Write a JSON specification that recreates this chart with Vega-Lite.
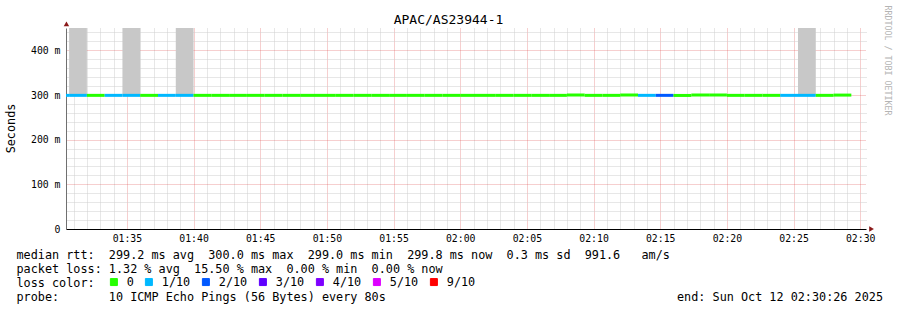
{
  "$schema": "https://vega.github.io/schema/vega-lite/v6.json",
  "width": 800,
  "height": 201,
  "autosize": {"type": "none"},
  "padding": {"left": 66, "top": 28, "right": 31, "bottom": 81},
  "background": "#ffffff",
  "config": {
    "font": "DejaVu Sans Mono",
    "view": {"stroke": null}
  },
  "datasets": {
    "smoke": [
      {"s": "2025-10-12T01:30:40Z", "e": "2025-10-12T01:32:00Z", "lo": 0.3, "hi": 0.45},
      {"s": "2025-10-12T01:34:40Z", "e": "2025-10-12T01:36:00Z", "lo": 0.3, "hi": 0.45},
      {"s": "2025-10-12T01:38:40Z", "e": "2025-10-12T01:40:00Z", "lo": 0.3, "hi": 0.45},
      {"s": "2025-10-12T02:25:20Z", "e": "2025-10-12T02:26:40Z", "lo": 0.3, "hi": 0.45}
    ],
    "steps": [
      {"s": "2025-10-12T01:29:20Z", "e": "2025-10-12T01:30:40Z", "rtt": 0.2992, "loss": "1/10"},
      {"s": "2025-10-12T01:30:40Z", "e": "2025-10-12T01:32:00Z", "rtt": 0.2992, "loss": "1/10"},
      {"s": "2025-10-12T01:32:00Z", "e": "2025-10-12T01:33:20Z", "rtt": 0.2992, "loss": "0"},
      {"s": "2025-10-12T01:33:20Z", "e": "2025-10-12T01:34:40Z", "rtt": 0.2992, "loss": "1/10"},
      {"s": "2025-10-12T01:34:40Z", "e": "2025-10-12T01:36:00Z", "rtt": 0.2992, "loss": "1/10"},
      {"s": "2025-10-12T01:36:00Z", "e": "2025-10-12T01:37:20Z", "rtt": 0.2992, "loss": "0"},
      {"s": "2025-10-12T01:37:20Z", "e": "2025-10-12T01:38:40Z", "rtt": 0.2992, "loss": "1/10"},
      {"s": "2025-10-12T01:38:40Z", "e": "2025-10-12T01:40:00Z", "rtt": 0.2992, "loss": "1/10"},
      {"s": "2025-10-12T01:40:00Z", "e": "2025-10-12T01:41:20Z", "rtt": 0.2992, "loss": "0"},
      {"s": "2025-10-12T01:41:20Z", "e": "2025-10-12T01:42:40Z", "rtt": 0.2992, "loss": "0"},
      {"s": "2025-10-12T01:42:40Z", "e": "2025-10-12T01:44:00Z", "rtt": 0.2992, "loss": "0"},
      {"s": "2025-10-12T01:44:00Z", "e": "2025-10-12T01:45:20Z", "rtt": 0.2992, "loss": "0"},
      {"s": "2025-10-12T01:45:20Z", "e": "2025-10-12T01:46:40Z", "rtt": 0.2992, "loss": "0"},
      {"s": "2025-10-12T01:46:40Z", "e": "2025-10-12T01:48:00Z", "rtt": 0.2992, "loss": "0"},
      {"s": "2025-10-12T01:48:00Z", "e": "2025-10-12T01:49:20Z", "rtt": 0.2992, "loss": "0"},
      {"s": "2025-10-12T01:49:20Z", "e": "2025-10-12T01:50:40Z", "rtt": 0.2992, "loss": "0"},
      {"s": "2025-10-12T01:50:40Z", "e": "2025-10-12T01:52:00Z", "rtt": 0.2992, "loss": "0"},
      {"s": "2025-10-12T01:52:00Z", "e": "2025-10-12T01:53:20Z", "rtt": 0.2992, "loss": "0"},
      {"s": "2025-10-12T01:53:20Z", "e": "2025-10-12T01:54:40Z", "rtt": 0.2992, "loss": "0"},
      {"s": "2025-10-12T01:54:40Z", "e": "2025-10-12T01:56:00Z", "rtt": 0.2992, "loss": "0"},
      {"s": "2025-10-12T01:56:00Z", "e": "2025-10-12T01:57:20Z", "rtt": 0.2992, "loss": "0"},
      {"s": "2025-10-12T01:57:20Z", "e": "2025-10-12T01:58:40Z", "rtt": 0.2992, "loss": "0"},
      {"s": "2025-10-12T01:58:40Z", "e": "2025-10-12T02:00:00Z", "rtt": 0.2992, "loss": "0"},
      {"s": "2025-10-12T02:00:00Z", "e": "2025-10-12T02:01:20Z", "rtt": 0.2992, "loss": "0"},
      {"s": "2025-10-12T02:01:20Z", "e": "2025-10-12T02:02:40Z", "rtt": 0.2992, "loss": "0"},
      {"s": "2025-10-12T02:02:40Z", "e": "2025-10-12T02:04:00Z", "rtt": 0.2992, "loss": "0"},
      {"s": "2025-10-12T02:04:00Z", "e": "2025-10-12T02:05:20Z", "rtt": 0.2992, "loss": "0"},
      {"s": "2025-10-12T02:05:20Z", "e": "2025-10-12T02:06:40Z", "rtt": 0.2992, "loss": "0"},
      {"s": "2025-10-12T02:06:40Z", "e": "2025-10-12T02:08:00Z", "rtt": 0.2992, "loss": "0"},
      {"s": "2025-10-12T02:08:00Z", "e": "2025-10-12T02:09:20Z", "rtt": 0.3000, "loss": "0"},
      {"s": "2025-10-12T02:09:20Z", "e": "2025-10-12T02:10:40Z", "rtt": 0.2992, "loss": "0"},
      {"s": "2025-10-12T02:10:40Z", "e": "2025-10-12T02:12:00Z", "rtt": 0.2992, "loss": "0"},
      {"s": "2025-10-12T02:12:00Z", "e": "2025-10-12T02:13:20Z", "rtt": 0.3000, "loss": "0"},
      {"s": "2025-10-12T02:13:20Z", "e": "2025-10-12T02:14:40Z", "rtt": 0.2992, "loss": "1/10"},
      {"s": "2025-10-12T02:14:40Z", "e": "2025-10-12T02:16:00Z", "rtt": 0.2992, "loss": "2/10"},
      {"s": "2025-10-12T02:16:00Z", "e": "2025-10-12T02:17:20Z", "rtt": 0.2990, "loss": "0"},
      {"s": "2025-10-12T02:17:20Z", "e": "2025-10-12T02:18:40Z", "rtt": 0.3000, "loss": "0"},
      {"s": "2025-10-12T02:18:40Z", "e": "2025-10-12T02:20:00Z", "rtt": 0.3000, "loss": "0"},
      {"s": "2025-10-12T02:20:00Z", "e": "2025-10-12T02:21:20Z", "rtt": 0.2992, "loss": "0"},
      {"s": "2025-10-12T02:21:20Z", "e": "2025-10-12T02:22:40Z", "rtt": 0.2992, "loss": "0"},
      {"s": "2025-10-12T02:22:40Z", "e": "2025-10-12T02:24:00Z", "rtt": 0.2992, "loss": "0"},
      {"s": "2025-10-12T02:24:00Z", "e": "2025-10-12T02:25:20Z", "rtt": 0.2992, "loss": "1/10"},
      {"s": "2025-10-12T02:25:20Z", "e": "2025-10-12T02:26:40Z", "rtt": 0.2992, "loss": "1/10"},
      {"s": "2025-10-12T02:26:40Z", "e": "2025-10-12T02:28:00Z", "rtt": 0.2992, "loss": "0"},
      {"s": "2025-10-12T02:28:00Z", "e": "2025-10-12T02:29:20Z", "rtt": 0.2998, "loss": "0"}
    ],
    "arrowUp": [
      {"t": "2025-10-12T01:30:28Z", "v": 0.459}
    ],
    "arrowRight": [
      {"t": "2025-10-12T02:30:51Z", "v": 0}
    ]
  },
  "layer": [
    {
      "data": {"name": "smoke"},
      "mark": {"type": "rect", "color": "#c8c8c8"},
      "encoding": {
        "x": {
          "field": "s", "type": "temporal",
          "scale": {"type": "utc", "nice": false, "domain": [1760232626000, 1760236226000]},
          "axis": {
            "orient": "top",
            "values": [1760232660000, 1760232720000, 1760232780000, 1760232840000, 1760232960000, 1760233020000, 1760233080000, 1760233140000, 1760233260000, 1760233320000, 1760233380000, 1760233440000, 1760233560000, 1760233620000, 1760233680000, 1760233740000, 1760233860000, 1760233920000, 1760233980000, 1760234040000, 1760234160000, 1760234220000, 1760234280000, 1760234340000, 1760234460000, 1760234520000, 1760234580000, 1760234640000, 1760234760000, 1760234820000, 1760234880000, 1760234940000, 1760235060000, 1760235120000, 1760235180000, 1760235240000, 1760235360000, 1760235420000, 1760235480000, 1760235540000, 1760235660000, 1760235720000, 1760235780000, 1760235840000, 1760235960000, 1760236020000, 1760236080000, 1760236140000],
            "grid": true, "gridColor": "#cfcfcf", "gridDash": [1, 1],
            "labels": false, "ticks": false, "domain": false,
            "title": "APAC/AS23944-1",
            "titleFont": "DejaVu Sans Mono",
            "titleX": 382, "titleY": -8.5,
            "titleAlign": "center", "titleBaseline": "middle",
            "titleFontSize": 13, "titleFontWeight": "normal", "titleColor": "#000000"
          }
        },
        "x2": {"field": "e"},
        "y": {
          "field": "lo", "type": "quantitative",
          "scale": {"domain": [0, 0.45], "nice": false, "zero": true},
          "axis": {
            "orient": "right",
            "values": [0.02, 0.04, 0.06, 0.08, 0.12, 0.14, 0.16, 0.18, 0.22, 0.24, 0.26, 0.28, 0.32, 0.34, 0.36, 0.38, 0.42, 0.44],
            "grid": true, "gridColor": "#cfcfcf", "gridDash": [1, 1],
            "labels": false, "ticks": false, "domain": false,
            "title": "RRDTOOL / TOBI OETIKER",
            "titleFont": "DejaVu Sans Mono",
            "titleAngle": 90, "titleX": 20, "titleY": -23,
            "titleAlign": "left", "titleBaseline": "middle",
            "titleFontSize": 8.3, "titleFontWeight": "normal", "titleColor": "#b4b4b4"
          }
        },
        "y2": {"field": "hi"}
      }
    },
    {
      "data": {"name": "steps"},
      "mark": {"type": "square", "size": 0, "filled": true, "stroke": "#000000", "strokeWidth": 1},
      "encoding": {
        "x": {"field": "s", "type": "temporal", "axis": null},
        "y": {"field": "rtt", "type": "quantitative", "axis": null},
        "color": {
          "field": "loss", "type": "nominal",
          "scale": {
            "domain": ["0", "1/10", "2/10", "3/10", "4/10", "5/10", "9/10"],
            "range": ["#26ff00", "#00b8ff", "#0059ff", "#5e00ff", "#7e00ff", "#dd00ff", "#ff0000"]
          },
          "legend": {
            "orient": "none", "legendX": 42, "legendY": 248,
            "direction": "horizontal",
            "title": null,
            "labelFont": "DejaVu Sans Mono", "labelFontSize": 11.8, "labelColor": "#000000",
            "labelOffset": 7, "columnPadding": 9,
            "symbolType": "square", "symbolSize": 49,
            "symbolStrokeColor": "#000000", "symbolStrokeWidth": 1,
            "symbolOpacity": 1,
            "padding": 0
          }
        }
      }
    },
    {
      "data": {"name": "steps"},
      "mark": {"type": "rule", "strokeWidth": 3, "clip": true},
      "encoding": {
        "x": {
          "field": "s", "type": "temporal",
          "axis": {
            "orient": "bottom",
            "values": [1760232900000, 1760233200000, 1760233500000, 1760233800000, 1760234100000, 1760234400000, 1760234700000, 1760235000000, 1760235300000, 1760235600000, 1760235900000, 1760236200000],
            "format": "%H:%M",
            "grid": true, "gridColor": "#e05050", "gridOpacity": 0.55, "gridDash": [1, 1],
            "ticks": false, "domain": true, "domainColor": "#000000",
            "labelFont": "DejaVu Sans Mono",
            "labelFontSize": 9.8, "labelColor": "#000000", "labelPadding": 4,
            "labelFlush": false, "labelOverlap": false,
            "title": [
              "median rtt:\u00a0\u00a0299.2 ms avg\u00a0\u00a0300.0 ms max\u00a0\u00a0299.0 ms min\u00a0\u00a0299.8 ms now\u00a0\u00a00.3 ms sd\u00a0\u00a0991.6\u00a0\u00a0\u00a0am/s",
              "packet loss: 1.32 % avg\u00a0\u00a015.50 % max\u00a0\u00a00.00 % min\u00a0\u00a00.00 % now",
              "loss color:",
              "probe:\u00a0\u00a0\u00a0\u00a0\u00a0\u00a0\u00a010 ICMP Echo Pings (56 Bytes) every 80s\u00a0\u00a0\u00a0\u00a0\u00a0\u00a0\u00a0\u00a0\u00a0\u00a0\u00a0\u00a0\u00a0\u00a0\u00a0\u00a0\u00a0\u00a0\u00a0\u00a0\u00a0\u00a0\u00a0\u00a0\u00a0\u00a0\u00a0\u00a0\u00a0\u00a0\u00a0\u00a0\u00a0\u00a0\u00a0\u00a0\u00a0\u00a0\u00a0\u00a0\u00a0end: Sun Oct 12 02:30:26 2025"
            ],
            "titleFont": "DejaVu Sans Mono",
            "titleX": -50, "titleY": 29,
            "titleAlign": "left", "titleBaseline": "alphabetic",
            "titleLineHeight": 14,
            "titleFontSize": 11.8, "titleFontWeight": "normal", "titleColor": "#000000"
          }
        },
        "x2": {"field": "e"},
        "y": {
          "field": "rtt", "type": "quantitative",
          "axis": {
            "orient": "left",
            "values": [0, 0.1, 0.2, 0.3, 0.4],
            "labelExpr": "datum.value == 0 ? '0' : format(datum.value * 1000, '.0f') + ' m'",
            "grid": true, "gridColor": "#e05050", "gridOpacity": 0.55, "gridDash": [1, 1],
            "ticks": false, "domain": true, "domainColor": "#707070",
            "labelFont": "DejaVu Sans Mono",
            "labelFontSize": 9.8, "labelColor": "#000000", "labelPadding": 6,
            "title": "Seconds",
            "titleFont": "DejaVu Sans Mono",
            "titleX": -55.5, "titleY": 100,
            "titleAlign": "center", "titleBaseline": "middle",
            "titleFontSize": 11.8, "titleFontWeight": "normal", "titleColor": "#000000"
          }
        },
        "color": {
          "field": "loss", "type": "nominal"
        }
      }
    },
    {
      "data": {"name": "arrowUp"},
      "mark": {"type": "point", "shape": "triangle-up", "filled": true, "size": 30, "color": "#8b1a1a", "opacity": 1},
      "encoding": {
        "x": {"field": "t", "type": "temporal", "axis": null},
        "y": {"field": "v", "type": "quantitative", "axis": null}
      }
    },
    {
      "data": {"name": "arrowRight"},
      "mark": {"type": "point", "shape": "triangle-right", "filled": true, "size": 30, "color": "#8b1a1a", "opacity": 1},
      "encoding": {
        "x": {"field": "t", "type": "temporal", "axis": null},
        "y": {"field": "v", "type": "quantitative", "axis": null}
      }
    }
  ],
  "resolve": {"axis": {"x": "independent", "y": "independent"}}
}
